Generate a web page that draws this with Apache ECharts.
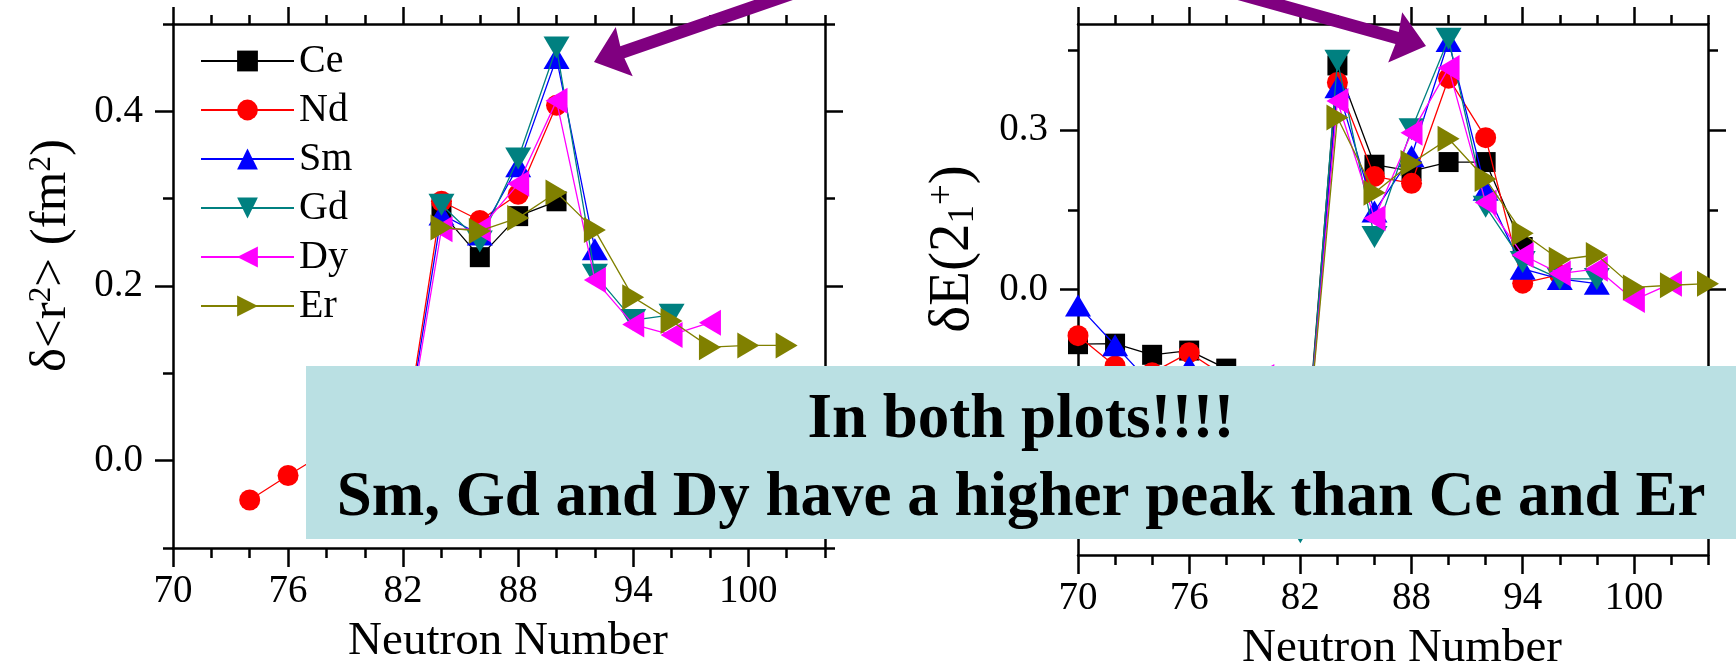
<!DOCTYPE html>
<html>
<head>
<meta charset="utf-8">
<script src="https://cdn.jsdelivr.net/npm/echarts@6/dist/echarts.min.js"></script>
<style>
  html, body { margin: 0; padding: 0; background: #ffffff; }
  #chart { width: 1736px; height: 665px; }
</style>
</head>
<body>
<div id="chart"></div>
<script>
// Axis ticks
const neutronTicksMajor = [70, 76, 82, 88, 94, 100];
const neutronTicksMinor = [72, 74, 78, 80, 84, 86, 90, 92, 96, 98, 102, 104];
const radiusTicksMajor = [0, 0.2, 0.4];
const radiusTicksMinor = [-0.1, 0.1, 0.3, 0.5];
const energyTicksMajor = [-0.3, 0, 0.3];
const energyTicksMinor = [-0.45, -0.15, 0.15, 0.45];

const elements = ['Ce', 'Nd', 'Sm', 'Gd', 'Dy', 'Er'];

// δ<r²> (fm²) against neutron number
const radiusCe = [[84, 0.284], [86, 0.233], [88, 0.280], [90, 0.297]];
const radiusNd = [[74, -0.045], [76, -0.017], [78, 0.010], [80, 0.012], [82, 0.012], [84, 0.297], [86, 0.275], [88, 0.305], [90, 0.407]];
const radiusSm = [[82, 0.005], [84, 0.282], [86, 0.259], [88, 0.337], [90, 0.461], [92, 0.242]];
const radiusGd = [[84, 0.293], [86, 0.251], [88, 0.346], [90, 0.473], [92, 0.213], [94, 0.161], [96, 0.167]];
const radiusDy = [[82, 0.000], [84, 0.265], [86, 0.265], [88, 0.317], [90, 0.412], [92, 0.207], [94, 0.156], [96, 0.144], [98, 0.158]];
const radiusEr = [[84, 0.267], [86, 0.263], [88, 0.278], [90, 0.307], [92, 0.264], [94, 0.187], [96, 0.160], [98, 0.130], [100, 0.132], [102, 0.132]];

// δE(2₁⁺) against neutron number
const energyCe = [[70, -0.103], [72, -0.102], [74, -0.123], [76, -0.115], [78, -0.149], [80, -0.200], [82, -0.440], [84, 0.422], [86, 0.235], [88, 0.223], [90, 0.240], [92, 0.240], [94, 0.080]];
const energyNd = [[70, -0.087], [72, -0.144], [74, -0.157], [76, -0.119], [78, -0.165], [80, -0.210], [82, -0.440], [84, 0.390], [86, 0.213], [88, 0.200], [90, 0.398], [92, 0.286], [94, 0.012], [96, 0.028]];
const energySm = [[70, -0.030], [72, -0.105], [74, -0.180], [76, -0.146], [78, -0.190], [80, -0.210], [82, -0.440], [84, 0.381], [86, 0.147], [88, 0.251], [90, 0.468], [92, 0.188], [94, 0.039], [96, 0.020], [98, 0.011]];
const energyGd = [[82, -0.457], [84, 0.431], [86, 0.099], [88, 0.302], [90, 0.472], [92, 0.156], [94, 0.052], [96, 0.020], [98, 0.020]];
const energyDy = [[80, -0.165], [82, -0.440], [84, 0.355], [86, 0.134], [88, 0.295], [90, 0.417], [92, 0.164], [94, 0.065], [96, 0.030], [98, 0.039], [100, -0.020], [102, 0.011]];
const energyEr = [[82, -0.430], [84, 0.324], [86, 0.182], [88, 0.238], [90, 0.284], [92, 0.208], [94, 0.106], [96, 0.056], [98, 0.065], [100, 0.004], [102, 0.008], [104, 0.011]];

const radiusData = [radiusCe, radiusNd, radiusSm, radiusGd, radiusDy, radiusEr];
const energyData = [energyCe, energyNd, energySm, energyGd, energyDy, energyEr];

const noteLines = ['In both plots!!!!', 'Sm, Gd and Dy have a higher peak than Ce and Er'];

const FONT = '"Liberation Serif", "Times New Roman", Times, serif';
const INK = '#000000';
const AXIS_W = 2.5;

const colors = { Ce: '#000000', Nd: '#ff0000', Sm: '#0000ff', Gd: '#008080', Dy: '#ff00ff', Er: '#808000' };
const markers = {
  Ce: { symbol: 'rect', rotate: 0, size: [20, 20] },
  Nd: { symbol: 'circle', rotate: 0, size: [21, 21] },
  Sm: { symbol: 'triangle', rotate: 0, size: [26, 22] },
  Gd: { symbol: 'triangle', rotate: 180, size: [26, 22] },
  Dy: { symbol: 'triangle', rotate: 90, size: [26, 22] },
  Er: { symbol: 'triangle', rotate: -90, size: [26, 22] }
};

const grids = [
  { left: 173, top: 24, width: 652, height: 524, containLabel: false, outerBoundsMode: 'none' },
  { left: 1078, top: 24, width: 630, height: 531, containLabel: false, outerBoundsMode: 'none' }
];

const hiddenLine = { show: false, onZero: false };
const axisLineStyle = { show: true, onZero: false, lineStyle: { color: INK, width: AXIS_W } };
const tick = (len, values) => ({ show: true, inside: false, length: len, customValues: values, lineStyle: { color: INK, width: AXIS_W } });

// Four x axes per grid: bottom/top, each with a long-tick and a short-tick layer
function makeXAxes(gridIndex) {
  const base = { gridIndex, type: 'value', min: 70, max: 104, splitLine: { show: false } };
  return [
    Object.assign({}, base, {
      position: 'bottom', axisLine: axisLineStyle, axisTick: tick(19, neutronTicksMajor),
      axisLabel: { show: true, customValues: neutronTicksMajor, margin: 24, fontFamily: FONT, fontSize: 39, color: INK },
      name: 'Neutron Number', nameLocation: 'middle', nameGap: 70,
      nameTextStyle: { fontFamily: FONT, fontSize: 47, color: INK, padding: [0, 0, 0, 18] }
    }),
    Object.assign({}, base, { position: 'bottom', axisLine: hiddenLine, axisTick: tick(10, neutronTicksMinor), axisLabel: { show: false } }),
    Object.assign({}, base, { position: 'top', axisLine: axisLineStyle, axisTick: tick(17, neutronTicksMajor), axisLabel: { show: false } }),
    Object.assign({}, base, { position: 'top', axisLine: hiddenLine, axisTick: tick(9, neutronTicksMinor), axisLabel: { show: false } })
  ];
}

function makeYAxes(gridIndex, min, max, majors, minors, name, nameSize, rich, shift) {
  const base = { gridIndex, type: 'value', min, max, splitLine: { show: false } };
  return [
    Object.assign({}, base, {
      position: 'left', axisLine: axisLineStyle, axisTick: tick(18, majors),
      axisLabel: { show: true, customValues: majors, margin: 30, fontFamily: FONT, fontSize: 39, color: INK, formatter: v => v.toFixed(1) },
      name, nameLocation: 'middle', nameGap: 96,
      nameTextStyle: { fontFamily: FONT, fontSize: nameSize, color: INK, padding: [0, 0, 0, shift], rich }
    }),
    Object.assign({}, base, { position: 'left', axisLine: hiddenLine, axisTick: tick(10, minors), axisLabel: { show: false } }),
    Object.assign({}, base, { position: 'right', axisLine: axisLineStyle, axisTick: tick(18, majors), axisLabel: { show: false } }),
    Object.assign({}, base, { position: 'right', axisLine: hiddenLine, axisTick: tick(10, minors), axisLabel: { show: false } })
  ];
}

const radiusRich = { sup: { fontFamily: FONT, fontSize: 31, color: INK, verticalAlign: 'top' } };
const energyRich = {
  sup: { fontFamily: FONT, fontSize: 37, color: INK, verticalAlign: 'top' },
  sub: { fontFamily: FONT, fontSize: 37, color: INK, verticalAlign: 'bottom' }
};

const xAxes = makeXAxes(0).concat(makeXAxes(1));
const yAxes = makeYAxes(0, -0.1, 0.5, radiusTicksMajor, radiusTicksMinor,
    'δ<r{sup|2}> (fm{sup|2})', 51, radiusRich, 61)
  .concat(makeYAxes(1, -0.5, 0.5, energyTicksMajor, energyTicksMinor,
    'δE(2{sub|1}{sup|+})', 57, energyRich, 81));

function makeSeries(gridIndex, dataSets) {
  return elements.map((el, i) => ({
    type: 'line',
    name: el,
    xAxisIndex: gridIndex * 4,
    yAxisIndex: gridIndex * 4,
    data: dataSets[i],
    symbol: markers[el].symbol,
    symbolSize: markers[el].size,
    symbolRotate: markers[el].rotate,
    showAllSymbol: true,
    clip: true,
    lineStyle: { color: colors[el], width: 1.3 },
    itemStyle: { color: colors[el], opacity: 1 },
    emphasis: { disabled: true },
    z: 2 + i
  }));
}

// Purple arrows: tip position and the direction back toward the tail
function arrowPoints(tip, dir) {
  const len = Math.hypot(dir[0], dir[1]);
  const u = [dir[0] / len, dir[1] / len];
  const n = [-u[1], u[0]];
  const headLen = 32, headHalf = 26, shaftHalf = 6.3, tail = 320;
  const at = (a, b) => [tip[0] + u[0] * a + n[0] * b, tip[1] + u[1] * a + n[1] * b];
  return [tip, at(headLen, headHalf), at(headLen - 2, shaftHalf), at(tail, shaftHalf),
          at(tail, -shaftHalf), at(headLen - 2, -shaftHalf), at(headLen, -headHalf)];
}
const ARROW = '#800080';

const chart = echarts.init(document.getElementById('chart'), null, { renderer: 'canvas' });
chart.setOption({
  animation: false,
  backgroundColor: '#ffffff',
  grid: grids,
  xAxis: xAxes,
  yAxis: yAxes,
  legend: {
    orient: 'vertical',
    left: 195,
    top: 36,
    itemWidth: 93,
    itemHeight: 26,
    itemGap: 9,
    selectedMode: false,
    textStyle: { fontFamily: FONT, fontSize: 40, color: INK },
    data: elements
  },
  series: makeSeries(0, radiusData).concat(makeSeries(1, energyData)),
  graphic: [
    { type: 'polygon', z: 100, shape: { points: arrowPoints([594, 62], [178.7, -61.7]) }, style: { fill: ARROW } },
    { type: 'polygon', z: 100, shape: { points: arrowPoints([1426, 46], [-165, -46]) }, style: { fill: ARROW } },
    { type: 'rect', z: 100, shape: { x: 306, y: 366, width: 1430, height: 173 }, style: { fill: '#bae0e3' } },
    { type: 'text', z: 101, x: 1021, y: 421,
      style: { text: noteLines[0], fill: INK, font: 'bold 63px ' + FONT, textAlign: 'center', textVerticalAlign: 'middle' } },
    { type: 'text', z: 101, x: 1021, y: 499,
      style: { text: noteLines[1], fill: INK, font: 'bold 63px ' + FONT, textAlign: 'center', textVerticalAlign: 'middle' } }
  ]
});
</script>
</body>
</html>
